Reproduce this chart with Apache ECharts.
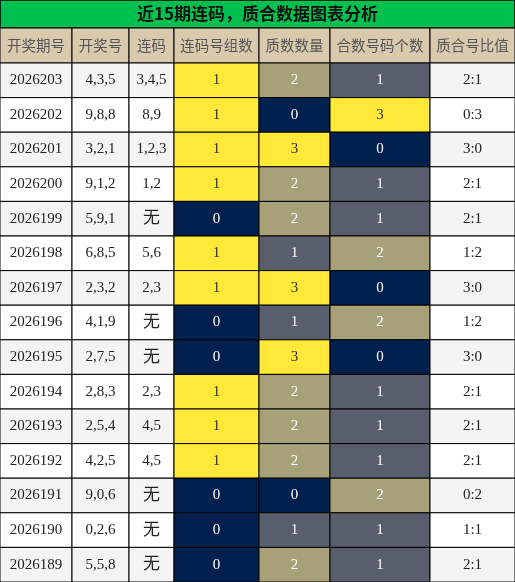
<!DOCTYPE html>
<html><head><meta charset="utf-8">
<script src="https://cdn.jsdelivr.net/npm/echarts@6/dist/echarts.min.js"></script>
<style>html,body{margin:0;padding:0;background:#fff}#c{width:515px;height:582px}</style>
</head><body><div id="c"></div>
<script>
const title = '近15期连码，质合数据图表分析';
const headers = ['开奖期号','开奖号','连码','连码号组数','质数数量','合数号码个数','质合号比值'];
const periods = ['2026203','2026202','2026201','2026200','2026199','2026198','2026197','2026196','2026195','2026194','2026193','2026192','2026191','2026190','2026189'];
const draws = ['4,3,5','9,8,8','3,2,1','9,1,2','5,9,1','6,8,5','2,3,2','4,1,9','2,7,5','2,8,3','2,5,4','4,2,5','9,0,6','0,2,6','5,5,8'];
const lianma = ['3,4,5','8,9','1,2,3','1,2','无','5,6','2,3','无','无','2,3','4,5','4,5','无','无','无'];
const groups = [1,1,1,1,0,1,1,0,0,1,1,1,0,0,0];
const primes = [2,0,3,2,2,1,3,1,3,2,2,2,0,1,2];
const composites = [1,3,0,1,1,2,0,2,0,1,1,1,2,1,1];
const ratios = ['2:1','0:3','3:0','2:1','2:1','1:2','3:0','1:2','3:0','2:1','2:1','2:1','0:2','1:1','2:1'];

const colEdges = [0,72,129,174,259,330,430,515];
const titleH = 28, headH = 35, rowH = (582 - 63) / 15;
const YEL='#ffe838', NAVY='#00204e', GRAY='#585e6c', KHAKI='#a8a078';
const valColor = [NAVY, GRAY, KHAKI, YEL];

const data = [];
data.push({value:[0,-2,0,7], kind:'title', text:title});
headers.forEach((h,c)=>data.push({value:[c,-1,c,c+1], kind:'head', text:h}));
for (let r=0;r<15;r++){
  const base = r%2===0 ? '#f4f4f4' : '#ffffff';
  const cells = [periods[r], draws[r], lianma[r], groups[r], primes[r], composites[r], ratios[r]];
  cells.forEach((v,c)=>{
    let bg = base, fg = '#222';
    if (c===3){ bg = v===1?YEL:NAVY; }
    else if (c===4||c===5){ bg = valColor[v]; }
    if (c>=3 && c<=5) fg = bg===YEL ? '#333' : '#fff';
    data.push({value:[c,r,c,c+1], kind:'cell', text:String(v), bg, fg, big: v==='无'});
  });
}
function rowTop(r){ return r===-2?0 : r===-1?titleH : titleH+headH+r*rowH; }
function rowBot(r){ return r===-2?titleH : r===-1?titleH+headH : titleH+headH+(r+1)*rowH; }

const chart = echarts.init(document.getElementById('c'));
chart.setOption({
  animation:false,
  grid:{left:0,right:0,top:0,bottom:0},
  xAxis:{type:'value',min:0,max:515,show:false},
  yAxis:{type:'value',min:0,max:582,inverse:true,show:false},
  series:[{
    type:'custom',
    data,
    renderItem(params, api){
      const d = data[params.dataIndex];
      const r = d.value[1];
      const x0 = colEdges[d.value[2]], x1 = colEdges[d.value[3]];
      const p0 = api.coord([x0, rowTop(r)]), p1 = api.coord([x1, rowBot(r)]);
      let fill, color, font, weight='normal', size=15;
      if (d.kind==='title'){ fill='#00c04f'; color='#111'; font='"Noto Sans CJK SC", "Liberation Serif", serif'; weight='bold'; size=17; }
      else if (d.kind==='head'){ fill='#d9c9ad'; color='#555'; font='"Noto Sans CJK SC", sans-serif'; size=14.5; }
      else { fill=d.bg; color=d.fg; font='"Liberation Serif", "Noto Sans CJK SC", serif'; size = d.big?17:15; }
      return {
        type:'rect',
        shape:{x:p0[0], y:p0[1], width:p1[0]-p0[0], height:p1[1]-p0[1]},
        style:{fill, stroke:'#000', lineWidth: d.kind==='title'?1.5:1},
        textContent:{style:{text:d.text, fill:color, fontFamily:font, fontSize:size, fontWeight:weight}},
        textConfig:{position:'inside'}
      };
    }
  }]
});
</script></body></html>
